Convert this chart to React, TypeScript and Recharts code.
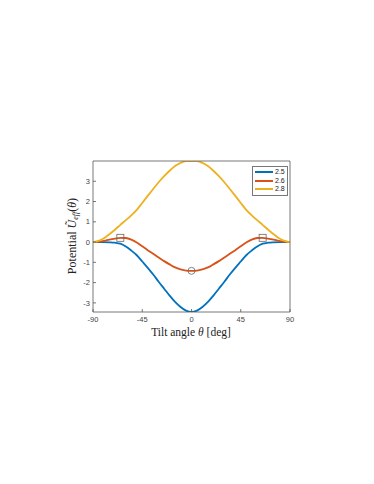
import React from 'react';
import { ComposedChart, Line, Scatter, XAxis, YAxis } from 'recharts';

const theta = [-90, -85, -80, -75, -70, -65, -60, -55, -50, -45, -40, -35, -30, -25, -20, -15, -10, -5, 0,
  5, 10, 15, 20, 25, 30, 35, 40, 45, 50, 55, 60, 65, 70, 75, 80, 85, 90];
const u25 = [0, 0, 0, -0.01, -0.03, -0.08, -0.22, -0.42, -0.65, -0.96, -1.27, -1.6, -1.96, -2.3, -2.64, -2.95, -3.2, -3.38, -3.45,
  -3.38, -3.2, -2.95, -2.64, -2.3, -1.96, -1.6, -1.27, -0.96, -0.65, -0.42, -0.22, -0.08, -0.03, -0.01, 0, 0, 0];
const u26 = [0, 0.02, 0.06, 0.12, 0.17, 0.21, 0.2, 0.12, -0.02, -0.21, -0.4, -0.58, -0.76, -0.94, -1.1, -1.25, -1.35, -1.41, -1.42,
  -1.41, -1.35, -1.25, -1.1, -0.94, -0.76, -0.58, -0.4, -0.21, -0.02, 0.12, 0.2, 0.21, 0.17, 0.12, 0.06, 0.02, 0];
const u28 = [0, 0.06, 0.19, 0.39, 0.61, 0.85, 1.08, 1.32, 1.59, 1.93, 2.28, 2.62, 2.95, 3.25, 3.52, 3.75, 3.91, 3.99, 4.0,
  3.99, 3.91, 3.75, 3.52, 3.25, 2.95, 2.62, 2.28, 1.93, 1.59, 1.32, 1.08, 0.85, 0.61, 0.39, 0.19, 0.06, 0];

const seriesNames = ['2.5', '2.6', '2.8'];
const seriesColors = ['#0072BD', '#D95319', '#EDB120'];

const squareTheta = [-65, 65];
const squareValue = [0.21, 0.21];
const circleTheta = [0];
const circleValue = [-1.42];

const xTicks = [-90, -45, 0, 45, 90];
const yTicks = [-3, -2, -1, 0, 1, 2, 3];

const data = theta.map((t, i) => ({ t, a: u25[i], b: u26[i], c: u28[i] }));
const squares = squareTheta.map((t, i) => ({ t, v: squareValue[i] }));
const circles = circleTheta.map((t, i) => ({ t, v: circleValue[i] }));

const AXIS = '#555';
const TICKFONT = { fontSize: 7.5, fill: '#444', fontFamily: 'Liberation Sans, Arial, sans-serif' };

const SquareShape = (props: any) => {
  const { cx, cy } = props;
  return <rect x={cx - 3.5} y={cy - 3.5} width={7} height={7} fill="none" stroke="#666" strokeWidth={0.8} />;
};
const CircleShape = (props: any) => {
  const { cx, cy } = props;
  return <circle cx={cx} cy={cy} r={3.5} fill="none" stroke="#666" strokeWidth={0.8} />;
};

const LegendBox = () => (
  <div style={{ position: 'absolute', left: 252, top: 166, border: '0.8px solid #777', background: '#fff', padding: '1px 2px', width: 36, boxSizing: 'border-box' }}>
    {seriesNames.map((n, i) => (
      <div key={n} style={{ display: 'flex', alignItems: 'center', height: 8.5 }}>
        <div style={{ width: 18, height: 2, background: seriesColors[i], marginRight: 2 }} />
        <span style={{ fontSize: 7, lineHeight: '8px', color: '#222', fontFamily: 'Liberation Sans, Arial, sans-serif' }}>{n}</span>
      </div>
    ))}
  </div>
);

const YLabel = (props: any) => {
  const cx = 72;
  const cy = 236;
  return (
    <text transform={`translate(${cx},${cy}) rotate(-90)`} textAnchor="middle" dominantBaseline="central"
      fontFamily="Liberation Serif, Times New Roman, serif" fontSize={12} fill="#222">
      <tspan>Potential </tspan>
      <tspan fontStyle="italic">Ũ</tspan>
      <tspan fontStyle="italic" fontSize={8} dy={2.5}>eff</tspan>
      <tspan dy={-2.5}>(</tspan>
      <tspan fontStyle="italic">θ</tspan>
      <tspan>)</tspan>
    </text>
  );
};

const XLabel = (props: any) => (
  <text x={191} y={332} textAnchor="middle" dominantBaseline="central"
    fontFamily="Liberation Serif, Times New Roman, serif" fontSize={11.5} fill="#222">
    <tspan>Tilt angle </tspan>
    <tspan fontStyle="italic">θ</tspan>
    <tspan> [deg]</tspan>
  </text>
);

export default function App() {
  return (
    <div style={{ position: 'absolute', left: 0, top: 0, width: 374, height: 484, background: '#fff' }}>
      <ComposedChart width={374} height={484} data={data} margin={{ top: 131, right: 54, bottom: 142, left: 33 }}>
        <XAxis xAxisId="b" dataKey="t" type="number" domain={[-90, 90]} ticks={xTicks} orientation="bottom"
          height={30} stroke={AXIS} strokeWidth={0.8} tickSize={-3} tickMargin={8} tick={TICKFONT}
          label={<XLabel />} allowDataOverflow />
        <XAxis xAxisId="t" dataKey="t" type="number" domain={[-90, 90]} ticks={xTicks} orientation="top"
          height={30} stroke={AXIS} strokeWidth={0.8} tickSize={-3} tick={false} allowDataOverflow />
        <YAxis yAxisId="l" type="number" domain={[-3.45, 4]} ticks={yTicks} orientation="left" width={60}
          stroke={AXIS} strokeWidth={0.8} tickSize={-3} tickMargin={6} tick={TICKFONT} label={<YLabel />} allowDataOverflow />
        <YAxis yAxisId="r" type="number" domain={[-3.45, 4]} ticks={yTicks} orientation="right" width={30}
          stroke={AXIS} strokeWidth={0.8} tickSize={-3} tick={false} allowDataOverflow />
        <Line xAxisId="b" yAxisId="l" dataKey="a" name={seriesNames[0]} stroke={seriesColors[0]} strokeWidth={1.8} dot={false} isAnimationActive={false} type="monotone" />
        <Line xAxisId="b" yAxisId="l" dataKey="b" name={seriesNames[1]} stroke={seriesColors[1]} strokeWidth={1.8} dot={false} isAnimationActive={false} type="monotone" />
        <Line xAxisId="b" yAxisId="l" dataKey="c" name={seriesNames[2]} stroke={seriesColors[2]} strokeWidth={1.8} dot={false} isAnimationActive={false} type="monotone" />
        <Scatter xAxisId="b" yAxisId="l" data={squares} dataKey="v" shape={<SquareShape />} isAnimationActive={false} legendType="none" />
        <Scatter xAxisId="b" yAxisId="l" data={circles} dataKey="v" shape={<CircleShape />} isAnimationActive={false} legendType="none" />
      </ComposedChart>
      <LegendBox />
    </div>
  );
}
